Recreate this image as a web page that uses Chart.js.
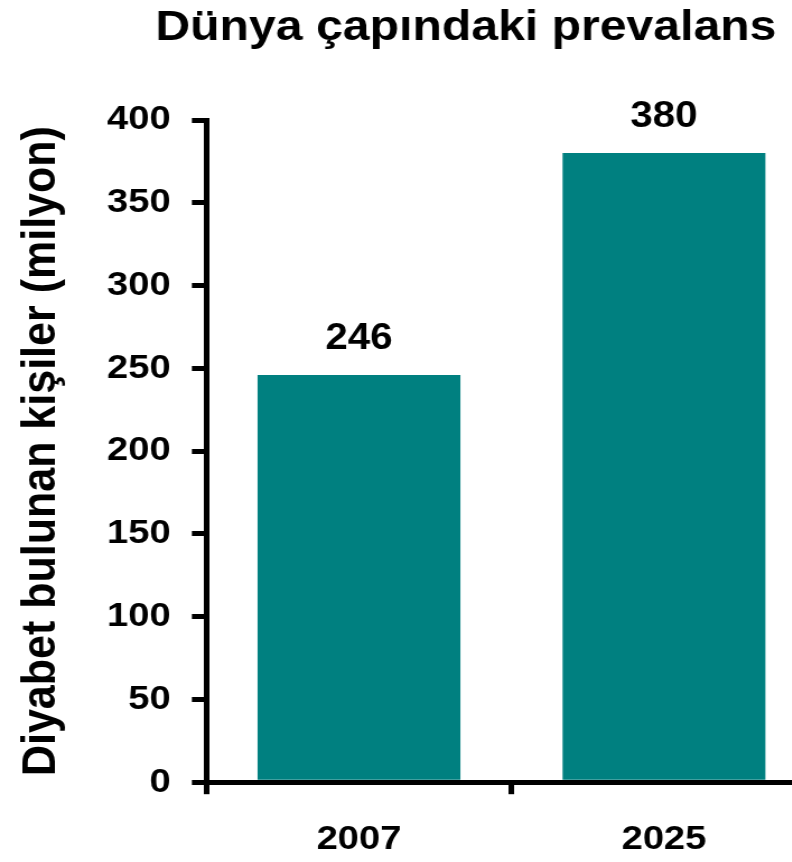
<!DOCTYPE html>
<html lang="tr">
<head>
<meta charset="utf-8">
<title>Dünya çapındaki prevalans</title>
<script src="https://cdn.jsdelivr.net/npm/chart.js@4/dist/chart.umd.min.js"></script>
<style>
  html, body { margin: 0; padding: 0; background: #ffffff; overflow: hidden; }
  #wrap { width: 740px; height: 862px; transform: scaleX(1.12); transform-origin: 0 0; }
  canvas { display: block; }
</style>
</head>
<body>
<div id="wrap"><canvas id="chart" width="740" height="862"></canvas></div>
<script>
// Diabetes prevalence worldwide, millions of people
const categories = ['2007', '2025'];
const prevalence = [246, 380];
const yMin = 0;
const yMax = 400;
const yStep = 50;

const chartTitle = 'Dünya çapındaki prevalans';
const yAxisTitle = 'Diyabet bulunan kişiler (milyon)';

const FONT = '"Liberation Sans", Arial, Helvetica, sans-serif';
const BAR_COLOR = '#008080';

// Title drawn above the plot, offset towards the right like the slide layout
const titlePlugin = {
  id: 'slideTitle',
  afterDraw(chart, args, opts) {
    const ctx = chart.ctx;
    ctx.save();
    ctx.font = `bold ${opts.size}px ${FONT}`;
    ctx.fillStyle = '#000';
    ctx.textAlign = 'center';
    ctx.textBaseline = 'alphabetic';
    ctx.fillText(opts.text, opts.centerX, opts.baseline);
    ctx.restore();
  }
};

// Value labels above each bar
const valueLabels = {
  id: 'valueLabels',
  afterDatasetsDraw(chart, args, opts) {
    const ctx = chart.ctx;
    ctx.save();
    ctx.font = `bold ${opts.size}px ${FONT}`;
    ctx.fillStyle = '#000';
    ctx.textAlign = 'center';
    ctx.textBaseline = 'alphabetic';
    chart.data.datasets.forEach((ds, di) => {
      chart.getDatasetMeta(di).data.forEach((bar, i) => {
        ctx.fillText(String(ds.data[i]), bar.x, bar.y - opts.gap);
      });
    });
    ctx.restore();
  }
};

new Chart(document.getElementById('chart'), {
  type: 'bar',
  data: {
    labels: categories,
    datasets: [{
      data: prevalence,
      backgroundColor: BAR_COLOR,
      borderWidth: 0,
      categoryPercentage: 1,
      barPercentage: 0.665
    }]
  },
  options: {
    responsive: false,
    animation: false,
    events: [],
    layout: { padding: { top: 120, left: 0, right: 11, bottom: -23 } },
    plugins: {
      legend: { display: false },
      tooltip: { enabled: false },
      title: { display: false },
      slideTitle: { text: chartTitle, size: 43, centerX: 416, baseline: 40 },
      valueLabels: { size: 36, gap: 26 }
    },
    scales: {
      x: {
        z: 1,
        grid: {
          display: true,
          offset: true,
          drawOnChartArea: false,
          drawTicks: true,
          tickLength: 12,
          lineWidth: 5,
          color: '#000'
        },
        border: { display: true, color: '#000', width: 5 },
        ticks: {
          color: '#000',
          padding: 25,
          font: { family: FONT, size: 34, weight: 'bold' }
        }
      },
      y: {
        z: 1,
        min: yMin,
        max: yMax,
        grid: {
          drawOnChartArea: false,
          drawTicks: true,
          tickLength: 13,
          lineWidth: 5,
          color: '#000'
        },
        border: { display: true, color: '#000', width: 5 },
        ticks: {
          stepSize: yStep,
          color: '#000',
          padding: 19,
          font: { family: FONT, size: 34, weight: 'bold' }
        },
        title: {
          display: true,
          text: yAxisTitle,
          color: '#000',
          padding: { top: 11, bottom: 14 },
          font: { family: FONT, size: 43, weight: 'bold' }
        }
      }
    }
  },
  plugins: [titlePlugin, valueLabels]
});
</script>
</body>
</html>
